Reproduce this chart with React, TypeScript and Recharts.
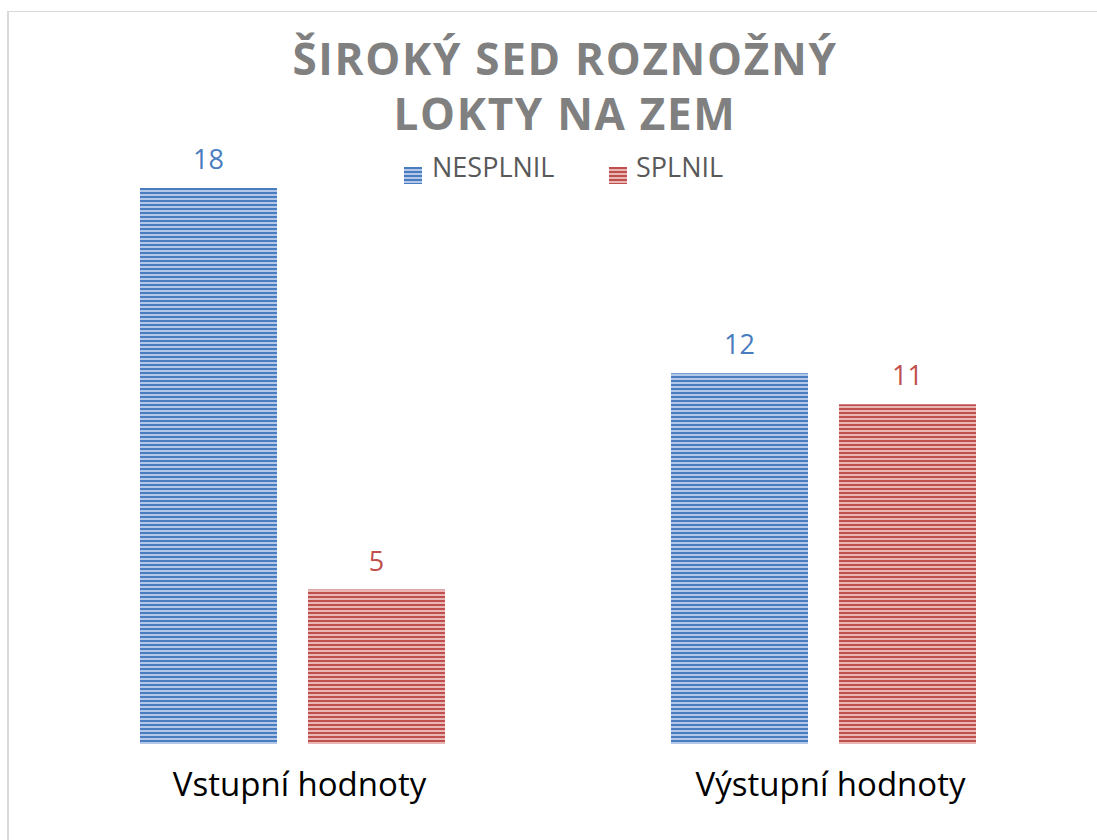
import React from "react";
import { BarChart, Bar, XAxis, YAxis, LabelList } from "recharts";

const categories = ["Vstupní hodnoty", "Výstupní hodnoty"];
const nesplnil = [18, 12];
const splnil = [5, 11];
const seriesNames = ["NESPLNIL", "SPLNIL"];
const titleLines = ["ŠIROKÝ SED ROZNOŽNÝ", "LOKTY NA ZEM"];

const data = categories.map((c, i) => ({ name: c, nesplnil: nesplnil[i], splnil: splnil[i] }));

const FONT = "'Open Sans', 'DejaVu Sans', sans-serif";
const BLUE = "#4A7DC0";
const RED = "#C0504D";

const Swatch = ({ id, left }: { id: string; left: number }) => (
  <svg width={18} height={17} style={{ position: "absolute", left, top: 167, display: "block" }}>
    <rect x={0} y={0} width={18} height={17} fill={`url(#${id})`} />
  </svg>
);

const legendText: React.CSSProperties = {
  position: "absolute",
  top: 148,
  color: "#595959",
  fontSize: 27,
  lineHeight: "37px",
  whiteSpace: "nowrap",
};

export default function App() {
  return (
    <div style={{ position: "absolute", left: 0, top: 0, width: 1097, height: 840, overflow: "hidden", background: "#fff", fontFamily: FONT }}>
      <svg width={0} height={0} style={{ position: "absolute" }}>
        <defs>
          <pattern id="pBlue" width={4} height={4} patternUnits="userSpaceOnUse">
            <rect x={0} y={0} width={4} height={4} fill="#B3C8E8" />
            <rect x={0} y={0} width={4} height={2} fill={BLUE} />
          </pattern>
          <pattern id="pRed" width={4} height={4} patternUnits="userSpaceOnUse">
            <rect x={0} y={0} width={4} height={4} fill="#E8B7B5" />
            <rect x={0} y={0} width={4} height={2} fill={RED} />
          </pattern>
        </defs>
      </svg>
      <div style={{ position: "absolute", left: 7, top: 11, width: 1200, height: 900, borderTop: "1.5px solid #D9D9D9", borderLeft: "2px solid #D9D9D9" }} />
      <div style={{ position: "absolute", left: 0, top: 31, width: 1130, textAlign: "center", color: "#808080", fontWeight: 700, fontSize: 44, letterSpacing: 1.7, lineHeight: "55px" }}>
        <div>{titleLines[0]}</div>
        <div>{titleLines[1]}</div>
      </div>
      <Swatch id="pBlue" left={404} />
      <div style={{ ...legendText, left: 432 }}>{seriesNames[0]}</div>
      <Swatch id="pRed" left={609} />
      <div style={{ ...legendText, left: 636 }}>{seriesNames[1]}</div>
      <div style={{ position: "absolute", left: 0, top: 0 }}>
        <BarChart width={1097} height={840} data={data} margin={{ top: 188, right: 8, bottom: 0, left: 27 }} barSize={137} barGap={31}>
          <XAxis dataKey="name" axisLine={false} tickLine={false} height={96} tick={{ fill: "#000", fontSize: 33, fontFamily: FONT }} dy={21} dx={7} interval={0} />
          <YAxis hide domain={[0, 18]} />
          <Bar dataKey="nesplnil" name={seriesNames[0]} fill="url(#pBlue)" isAnimationActive={false}>
            <LabelList dataKey="nesplnil" position="top" offset={19} fill={BLUE} fontSize={27} fontFamily={FONT} />
          </Bar>
          <Bar dataKey="splnil" name={seriesNames[1]} fill="url(#pRed)" isAnimationActive={false}>
            <LabelList dataKey="splnil" position="top" offset={19} fill={RED} fontSize={27} fontFamily={FONT} />
          </Bar>
        </BarChart>
      </div>
    </div>
  );
}
